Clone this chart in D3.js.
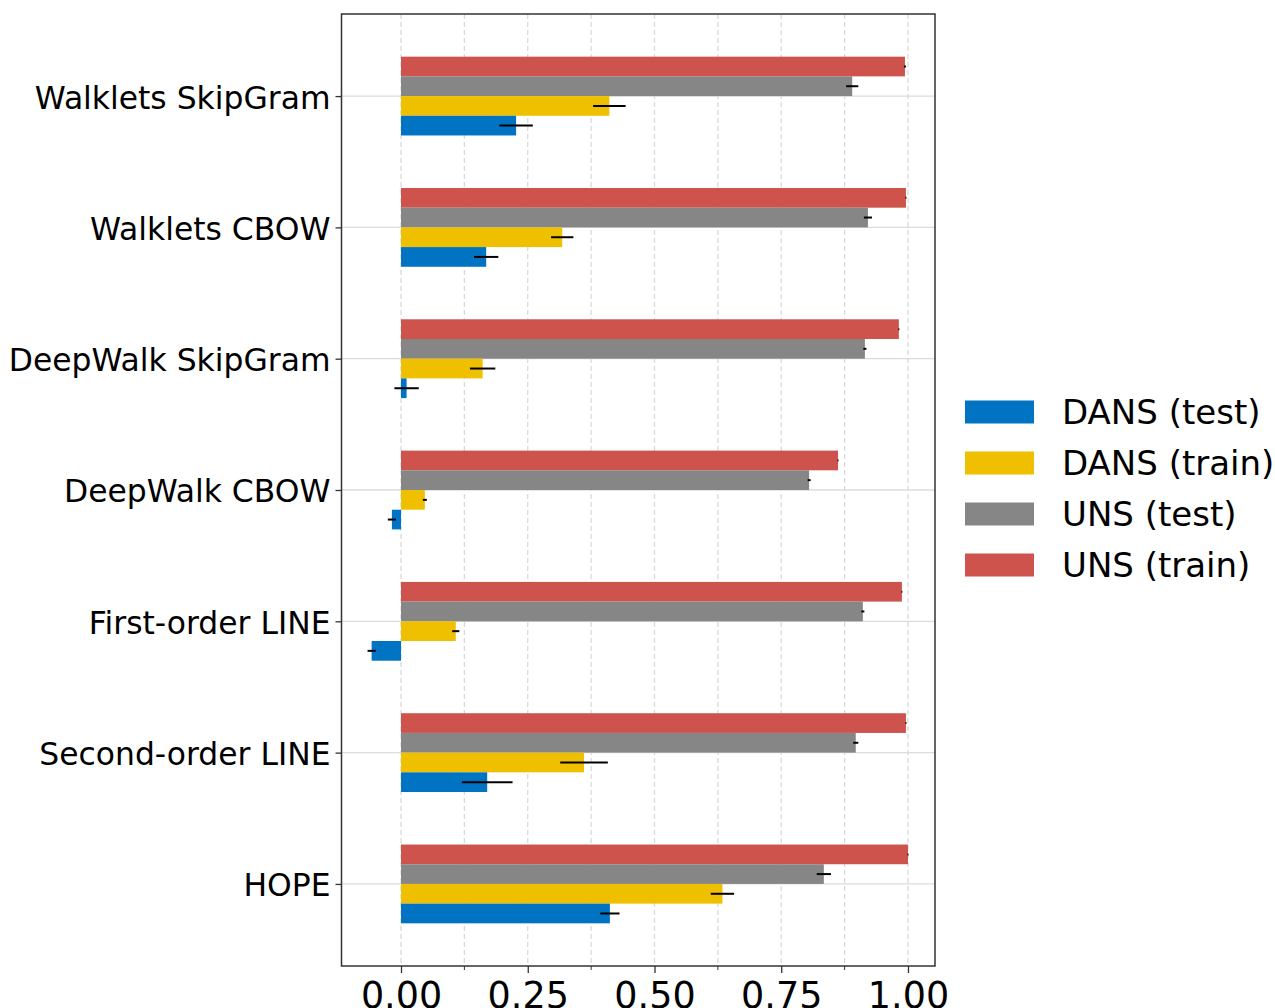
<!DOCTYPE html>
<html>
<head>
<meta charset="utf-8">
<script src="https://cdn.jsdelivr.net/npm/d3@7"></script>
<style>
  html, body { margin: 0; padding: 0; background: #fff; }
  svg { display: block; font-family: 'DejaVu Sans', sans-serif; }
</style>
</head>
<body>
<div id="chart"></div>
<script>
// categories top to bottom
const methods = ['Walklets SkipGram', 'Walklets CBOW', 'DeepWalk SkipGram', 'DeepWalk CBOW',
  'First-order LINE', 'Second-order LINE', 'HOPE'];

// series order as drawn inside each group (top to bottom)
const seriesKeys = ['UNS (train)', 'UNS (test)', 'DANS (train)', 'DANS (test)'];
const legendOrder = ['DANS (test)', 'DANS (train)', 'UNS (test)', 'UNS (train)'];
const seriesColors = {
  'DANS (test)': '#0073C2',
  'DANS (train)': '#EFC000',
  'UNS (test)': '#868686',
  'UNS (train)': '#CD534C',
};

// values, one per method
const dansTest     = [0.227, 0.168, 0.011, -0.018, -0.058, 0.170, 0.412];
const dansTestErr  = [0.033, 0.024, 0.024, 0.008, 0.008, 0.050, 0.019];
const dansTrain    = [0.411, 0.318, 0.161, 0.047, 0.108, 0.361, 0.634];
const dansTrainErr = [0.032, 0.022, 0.025, 0.004, 0.007, 0.047, 0.023];
const unsTest      = [0.890, 0.921, 0.915, 0.805, 0.911, 0.897, 0.834];
const unsTestErr   = [0.012, 0.008, 0.003, 0.003, 0.003, 0.005, 0.014];
const unsTrain     = [0.994, 0.996, 0.982, 0.862, 0.988, 0.996, 1.000];
const unsTrainErr  = [0.002, 0.001, 0.001, 0.001, 0.001, 0.001, 0.001];

const xTicks = [0, 0.25, 0.5, 0.75, 1.0];
const xGrid = [0, 0.125, 0.25, 0.375, 0.5, 0.625, 0.75, 0.875, 1.0];

const seriesData = {
  'DANS (test)':  { v: dansTest, e: dansTestErr },
  'DANS (train)': { v: dansTrain, e: dansTrainErr },
  'UNS (test)':   { v: unsTest, e: unsTestErr },
  'UNS (train)':  { v: unsTrain, e: unsTrainErr },
};

const W = 1275, H = 1008;
const plot = { left: 341.5, right: 935, top: 14, bottom: 966 };

const svg = d3.select('#chart').append('svg')
  .attr('width', W).attr('height', H);

const x = d3.scaleLinear().domain([-0.1174, 1.0533]).range([plot.left, plot.right]);
const y = d3.scalePoint().domain(methods).range([plot.top, plot.bottom]).padding(0.625);
const inner = d3.scaleBand().domain(seriesKeys)
  .range([-0.3 * y.step(), 0.3 * y.step()]).padding(0);

// grid
const grid = svg.append('g');
grid.selectAll('line.vg').data(xGrid).join('line')
  .attr('class', 'vg')
  .attr('x1', (d) => x(d)).attr('x2', (d) => x(d))
  .attr('y1', plot.top).attr('y2', plot.bottom)
  .attr('stroke', '#d9d9d9').attr('stroke-width', 1.3)
  .attr('stroke-dasharray', '5 3');
grid.selectAll('line.hg').data(methods).join('line')
  .attr('class', 'hg')
  .attr('x1', plot.left).attr('x2', plot.right)
  .attr('y1', (d) => y(d)).attr('y2', (d) => y(d))
  .attr('stroke', '#dcdcdc').attr('stroke-width', 1.3);

// bars
const bars = [];
seriesKeys.forEach((k) => {
  methods.forEach((m, i) => {
    bars.push({ key: k, method: m, value: seriesData[k].v[i], err: seriesData[k].e[i] });
  });
});

svg.append('g').selectAll('rect').data(bars).join('rect')
  .attr('x', (d) => x(Math.min(0, d.value)))
  .attr('width', (d) => Math.abs(x(d.value) - x(0)))
  .attr('y', (d) => y(d.method) + inner(d.key))
  .attr('height', inner.bandwidth())
  .attr('fill', (d) => seriesColors[d.key]);

// error bars
svg.append('g').selectAll('line').data(bars).join('line')
  .attr('x1', (d) => x(d.value - d.err)).attr('x2', (d) => x(d.value + d.err))
  .attr('y1', (d) => y(d.method) + inner(d.key) + inner.bandwidth() / 2)
  .attr('y2', (d) => y(d.method) + inner(d.key) + inner.bandwidth() / 2)
  .attr('stroke', '#000').attr('stroke-width', 2);

// frame
svg.append('rect')
  .attr('x', plot.left).attr('y', plot.top)
  .attr('width', plot.right - plot.left).attr('height', plot.bottom - plot.top)
  .attr('fill', 'none').attr('stroke', '#333').attr('stroke-width', 1.5);

// x axis
const xAxis = svg.append('g').attr('transform', `translate(0,${plot.bottom})`)
  .call(d3.axisBottom(x).tickValues(xTicks).tickFormat(d3.format('.2f')).tickSize(7).tickPadding(9));
xAxis.select('.domain').remove();
xAxis.selectAll('.tick line').attr('stroke', '#333').attr('stroke-width', 1.3);
xAxis.selectAll('.tick text')
  .attr('font-size', 36.5).attr('fill', '#000')
  .attr('font-family', 'DejaVu Sans');
// minor ticks
xAxis.selectAll('line.minor').data(xGrid.filter((d) => !xTicks.includes(d))).join('line')
  .attr('class', 'minor')
  .attr('x1', (d) => x(d)).attr('x2', (d) => x(d))
  .attr('y1', 0).attr('y2', 4)
  .attr('stroke', '#333').attr('stroke-width', 1);

// y axis
const yAxis = svg.append('g').attr('transform', `translate(${plot.left},0)`)
  .call(d3.axisLeft(y).tickSize(6).tickPadding(5));
yAxis.select('.domain').remove();
yAxis.selectAll('.tick line').attr('stroke', '#333').attr('stroke-width', 1.3);
yAxis.selectAll('.tick text')
  .attr('font-size', 31.4).attr('fill', '#000').attr('dy', '0.38em')
  .attr('font-family', 'DejaVu Sans');

// legend
const legend = svg.append('g').attr('transform', 'translate(965,412)');
const row = legend.selectAll('g').data(legendOrder).join('g')
  .attr('transform', (d, i) => `translate(0,${i * 51})`);
row.append('rect')
  .attr('x', 0).attr('y', -11.5).attr('width', 69).attr('height', 23)
  .attr('fill', (d) => seriesColors[d]);
row.append('text')
  .attr('x', 97).attr('y', 0).attr('dy', '0.35em')
  .attr('font-size', 34).attr('fill', '#000')
  .text((d) => d);
</script>
</body>
</html>
